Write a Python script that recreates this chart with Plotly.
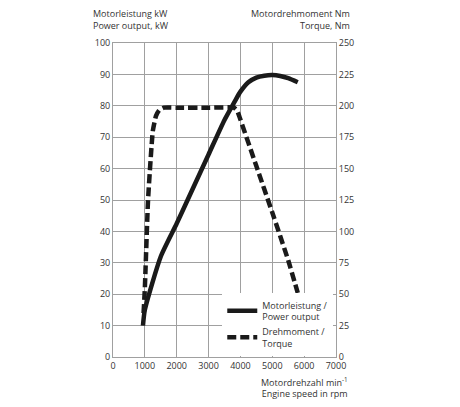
import plotly.graph_objects as go

# Power output (kW) vs engine speed (rpm)
power_rpm = [940, 1000, 1500, 2000, 2500, 3000, 3500, 3800, 4000, 4250, 4500, 4750, 5000, 5250, 5500, 5800]
power_kw = [10, 15, 32, 42.5, 53.5, 64.5, 75.5, 81, 84.5, 87.5, 89, 89.6, 89.8, 89.5, 88.8, 87.5]

# Torque (Nm) vs engine speed (rpm)
torque_rpm = [960, 1000, 1100, 1250, 1350, 1450, 1600, 2000, 3000, 3800, 3900, 4000, 4500, 5000, 5500, 5800]
torque_nm = [35, 55, 125, 180, 192, 196.5, 198.5, 198.5, 198.5, 198.5, 196, 189, 152, 115, 77, 51]

x_ticks = [0, 1000, 2000, 3000, 4000, 5000, 6000, 7000]
left_ticks = list(range(0, 101, 10))
right_ticks = list(range(0, 251, 25))

FONT = "Open Sans"
TXT = "#333333"
GRID = "#a0a0a0"

fig = go.Figure()
fig.add_trace(go.Scatter(
    x=power_rpm, y=power_kw, mode="lines", name="Motorleistung /<br>Power output",
    line=dict(color="#1a1a1a", width=4.5, shape="spline", smoothing=0.6), yaxis="y",
))
fig.add_trace(go.Scatter(
    x=torque_rpm, y=torque_nm, mode="lines", name="Drehmoment /<br>Torque",
    line=dict(color="#1a1a1a", width=4.5, dash="9px,4px", shape="spline", smoothing=0.4), yaxis="y2",
))

fig.update_layout(
    width=460, height=407,
    margin=dict(l=113, r=124, t=43, b=50),
    paper_bgcolor="white", plot_bgcolor="white",
    font=dict(family=FONT, size=9, color=TXT),
    showlegend=True,
    legend=dict(
        x=0.49, y=0.205, xanchor="left", yanchor="top",
        bgcolor="white", borderwidth=0,
        font=dict(family=FONT, size=9, color=TXT),
        itemwidth=30,
    ),
    xaxis=dict(
        range=[0, 7000], tickvals=x_ticks, ticktext=[str(v) for v in x_ticks],
        showgrid=True, gridcolor=GRID, gridwidth=1,
        showline=True, linecolor=GRID, linewidth=1, mirror=True,
        zeroline=False, ticks="", tickfont=dict(size=9, color=TXT),
    ),
    yaxis=dict(
        range=[0, 100], tickvals=left_ticks,
        showgrid=True, gridcolor=GRID, gridwidth=1,
        showline=True, linecolor=GRID, linewidth=1,
        zeroline=False, ticks="", tickfont=dict(size=9, color=TXT),
    ),
    yaxis2=dict(
        range=[0, 250], tickvals=right_ticks, overlaying="y", side="right",
        showgrid=False, showline=True, linecolor=GRID, linewidth=1,
        zeroline=False, ticks="", tickfont=dict(size=9, color=TXT),
    ),
    annotations=[
        dict(text="Motorleistung kW<br>Power output, kW", xref="paper", yref="paper",
             x=-0.098, y=1.0, xanchor="left", yanchor="bottom", yshift=9, showarrow=False,
             align="left", font=dict(size=9, color=TXT)),
        dict(text="Motordrehmoment Nm<br>Torque, Nm", xref="paper", yref="paper",
             x=1.07, y=1.0, xanchor="right", yanchor="bottom", yshift=9, showarrow=False,
             align="right", font=dict(size=9, color=TXT)),
        dict(text="Motordrehzahl min<sup>-1</sup><br>Engine speed in rpm", xref="paper", yref="paper",
             x=1.063, y=0, xanchor="right", yanchor="top", yshift=-16, showarrow=False,
             align="right", font=dict(size=9, color=TXT)),
    ],
)

fig.write_html("out.html", config={"displayModeBar": False},
               post_script="document.body.style.margin='0px';")
